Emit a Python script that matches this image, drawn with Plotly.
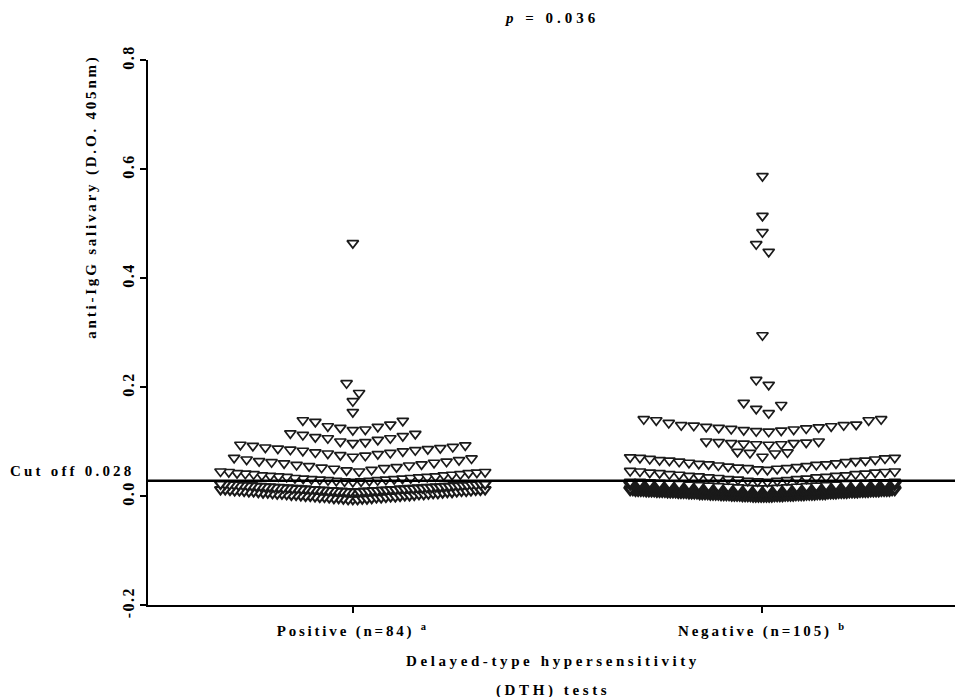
import plotly.graph_objects as go

# ---------------- data ----------------
categories = ["Positive (n=84) <sup>a</sup>", "Negative (n=105) <sup>b</sup>"]
y_ticks = [-0.2, 0.0, 0.2, 0.4, 0.6, 0.8]
cut_off = 0.028

# Positive group, grouped in display rows
pos_r0 = [0.464]
pos_r1 = [0.207, 0.189]
pos_r2 = [0.174]
pos_r3 = [0.154]
pos_r4 = [0.121, 0.122, 0.125, 0.127, 0.128, 0.131, 0.136, 0.138, 0.139]
pos_r5 = [0.097, 0.099, 0.100, 0.103, 0.106, 0.106, 0.108, 0.110, 0.112, 0.114, 0.115]
pos_r6 = [0.072, 0.074, 0.075, 0.077, 0.078, 0.079, 0.080, 0.082, 0.083, 0.084,
          0.085, 0.086, 0.087, 0.088, 0.089, 0.090, 0.092, 0.093, 0.094]
pos_r7 = [0.045, 0.047, 0.048, 0.050, 0.051, 0.052, 0.053, 0.055, 0.056, 0.057,
          0.058, 0.060, 0.061, 0.062, 0.063, 0.064, 0.066, 0.067, 0.069, 0.070]
pos_r8 = [0.026, 0.027, 0.027, 0.028, 0.028, 0.029, 0.029, 0.030, 0.030, 0.031,
          0.031, 0.032, 0.032, 0.033, 0.033, 0.034, 0.035, 0.035, 0.036, 0.036,
          0.037, 0.038, 0.038, 0.039, 0.040, 0.040, 0.041, 0.042, 0.042, 0.043,
          0.044, 0.044, 0.045]
pos_band_a = [0.008, 0.008, 0.008, 0.008, 0.009, 0.009, 0.009, 0.009, 0.010, 0.010,
              0.010, 0.010, 0.011, 0.011, 0.011, 0.011, 0.012, 0.012, 0.012, 0.012,
              0.013, 0.013, 0.013, 0.013, 0.014, 0.014, 0.014, 0.014, 0.015, 0.015,
              0.015, 0.015, 0.016, 0.016, 0.016, 0.016, 0.017, 0.017, 0.017, 0.017,
              0.018, 0.018, 0.018, 0.018, 0.019, 0.019, 0.019, 0.019, 0.020, 0.020,
              0.020, 0.020, 0.021, 0.021, 0.021, 0.021, 0.022, 0.022, 0.022, 0.022]
pos_band_b = [-0.006, -0.006, -0.006, -0.005, -0.005, -0.005, -0.004, -0.004, -0.004,
              -0.003, -0.003, -0.003, -0.002, -0.002, -0.002, -0.001, -0.001, -0.001,
              0.000, 0.000, 0.000, 0.001, 0.001, 0.001, 0.002, 0.002, 0.002,
              0.003, 0.003, 0.003, 0.004, 0.004, 0.004, 0.005, 0.005, 0.005,
              0.006, 0.006, 0.006, 0.007, 0.007, 0.007, 0.008, 0.008, 0.008,
              0.009, 0.009, 0.009, 0.010, 0.010, 0.010, 0.011, 0.011, 0.011,
              0.012, 0.012, 0.012]

# Negative group, grouped in display rows
neg_r0 = [0.587]
neg_r1 = [0.514]
neg_r2 = [0.484]
neg_r3 = [0.462, 0.448]
neg_r4 = [0.295]
neg_r5 = [0.213, 0.204]
neg_r6 = [0.152, 0.160, 0.167, 0.171]
neg_r7 = [0.118, 0.119, 0.120, 0.121, 0.122, 0.123, 0.124, 0.125, 0.126, 0.127,
          0.128, 0.129, 0.130, 0.130, 0.131, 0.134, 0.139, 0.139, 0.141, 0.141]
neg_r8 = [0.094, 0.095, 0.095, 0.096, 0.097, 0.097, 0.098, 0.099, 0.100, 0.100]
neg_r9 = [0.072, 0.078, 0.079, 0.080, 0.081]
neg_r10 = [0.048, 0.049, 0.050, 0.051, 0.051, 0.052, 0.053, 0.054, 0.055, 0.056,
           0.057, 0.058, 0.058, 0.059, 0.060, 0.061, 0.062, 0.063, 0.064, 0.065,
           0.065, 0.066, 0.067, 0.068, 0.069, 0.070, 0.070, 0.071]
neg_r11 = [0.026, 0.027, 0.028, 0.028, 0.029, 0.030, 0.031, 0.031, 0.032, 0.033,
           0.034, 0.034, 0.035, 0.036, 0.037, 0.037, 0.038, 0.039, 0.040, 0.040,
           0.041, 0.042, 0.043, 0.043, 0.044, 0.045, 0.045, 0.046]
neg_r12 = [0.014, 0.014, 0.015, 0.015, 0.016, 0.016, 0.017, 0.017, 0.018, 0.018,
           0.019, 0.019, 0.020, 0.020, 0.021, 0.021, 0.022, 0.022, 0.023, 0.023,
           0.024, 0.024, 0.025, 0.025, 0.025, 0.026, 0.026, 0.026]
neg_band_a = [0.010, 0.010, 0.010, 0.010, 0.010, 0.010, 0.010, 0.010,
              0.011, 0.011, 0.011, 0.011, 0.011, 0.011, 0.011, 0.011,
              0.012, 0.012, 0.012, 0.012, 0.012, 0.012, 0.012, 0.012,
              0.013, 0.013, 0.013, 0.013, 0.013, 0.013, 0.013, 0.013,
              0.014, 0.014, 0.014, 0.014, 0.014, 0.014, 0.014, 0.014,
              0.015, 0.015, 0.015, 0.015, 0.015, 0.015, 0.015, 0.015,
              0.016, 0.016, 0.016, 0.016, 0.016, 0.016, 0.016, 0.016,
              0.017, 0.017, 0.017, 0.017, 0.017, 0.017, 0.017, 0.017,
              0.018, 0.018, 0.018, 0.018, 0.018, 0.018, 0.018, 0.018,
              0.019, 0.019, 0.019, 0.019, 0.019, 0.019, 0.019, 0.019,
              0.020, 0.020, 0.020, 0.020, 0.020, 0.020, 0.020, 0.020,
              0.021, 0.021, 0.021, 0.021, 0.021, 0.021,
              0.022, 0.022, 0.022, 0.022, 0.022, 0.022]
neg_band_b = [0.000, 0.000, 0.000, 0.000, 0.000, 0.000, 0.000, 0.000,
              0.001, 0.001, 0.001, 0.001, 0.001, 0.001, 0.001, 0.001,
              0.002, 0.002, 0.002, 0.002, 0.002, 0.002, 0.002, 0.002,
              0.003, 0.003, 0.003, 0.003, 0.003, 0.003, 0.003, 0.003,
              0.004, 0.004, 0.004, 0.004, 0.004, 0.004, 0.004, 0.004,
              0.005, 0.005, 0.005, 0.005, 0.005, 0.005, 0.005, 0.005,
              0.006, 0.006, 0.006, 0.006, 0.006, 0.006, 0.006, 0.006,
              0.007, 0.007, 0.007, 0.007, 0.007, 0.007, 0.007, 0.007,
              0.008, 0.008, 0.008, 0.008, 0.008, 0.008, 0.008, 0.008,
              0.009, 0.009, 0.009, 0.009, 0.009, 0.009, 0.009, 0.009,
              0.010, 0.010, 0.010, 0.010, 0.010, 0.010, 0.010, 0.010,
              0.011, 0.011, 0.011, 0.011, 0.011, 0.011, 0.011, 0.011,
              0.012, 0.012, 0.012, 0.012]

pos_rows = [pos_band_b, pos_band_a, pos_r8, pos_r7, pos_r6, pos_r5, pos_r4,
            pos_r3, pos_r2, pos_r1, pos_r0]
neg_rows = [neg_band_b, neg_band_a, neg_r12, neg_r11, neg_r10, neg_r9, neg_r8,
            neg_r7, neg_r6, neg_r5, neg_r4, neg_r3, neg_r2, neg_r1, neg_r0]


# ---------------- column-scatter layout (rows spread centre-out) ----------------
def spread_row(vals, center, step=0.0305, max_w=0.646):
    s = sorted(vals)
    n = len(s)
    if n == 1:
        return [center], s, step
    sp = min(step, max_w / (n - 1))
    offs = [(i - (n - 1) / 2) * sp for i in range(n)]
    order = sorted(range(n), key=lambda i: (abs(offs[i]), -i))
    xs = [center + offs[order[j]] for j in range(n)]
    return xs, s, sp


def build(rows, center):
    X, Y, W = [], [], []
    for r in rows:
        xs, ys, sp = spread_row(r, center)
        X += xs
        Y += ys
        # squeezed rows print darker (overlapping outlines)
        if sp < 0.0075:
            w = 3.2
        elif sp < 0.012:
            w = 2.1
        else:
            w = 1.7
        W += [w] * len(xs)
    return X, Y, W


FONT = "Liberation Serif"
INK = "#1a1a1a"


def spaced(t, sp=3):
    return f'<span style="letter-spacing:{sp}px">{t}</span>'


fig = go.Figure()
for rows, c in ((pos_rows, 0), (neg_rows, 1)):
    X, Y, W = build(rows, c)
    fig.add_trace(go.Scatter(
        x=X, y=Y, mode="markers", showlegend=False, hoverinfo="y",
        marker=dict(symbol="triangle-down", size=10, color="white",
                    line=dict(color=INK, width=W)),
    ))

fig.add_shape(type="line", xref="paper", yref="y", x0=0, x1=1, y0=cut_off, y1=cut_off,
              line=dict(color="black", width=2.5), layer="above")

fig.update_layout(
    width=955, height=697,
    margin=dict(l=148, r=0, t=60, b=92),
    paper_bgcolor="white", plot_bgcolor="white",
    font=dict(family=FONT, size=14, color="black", weight="bold"),
    xaxis=dict(range=[-0.5, 1.47], tickvals=[0, 1],
               ticktext=[spaced(c, 2.8) for c in categories],
               showline=True, linecolor="black", linewidth=2,
               ticks="outside", ticklen=6, tickwidth=2, tickcolor="black",
               ticklabelstandoff=5,
               showgrid=False, zeroline=False,
               tickfont=dict(family=FONT, size=15, weight="bold")),
    yaxis=dict(range=[-0.2, 0.8], tickvals=y_ticks,
               ticktext=[spaced(f"{v:.1f}", 1.5) for v in y_ticks],
               tickangle=-90,
               showline=True, linecolor="black", linewidth=2,
               ticks="outside", ticklen=6, tickwidth=2, tickcolor="black",
               showgrid=False, zeroline=False,
               tickfont=dict(family=FONT, size=16, weight="bold")),
)

ann = dict(showarrow=False, font=dict(family=FONT, size=15, color="black", weight="bold"))
fig.add_annotation(text=spaced("<i>p</i> = 0.036", 4), xref="paper", yref="paper",
                   x=0.5, y=1.077, xanchor="center", yanchor="middle", **ann)
fig.add_annotation(text=spaced("Cut off 0.028", 3.2), xref="paper", yref="y",
                   x=-0.0136, y=0.046, xanchor="right", yanchor="middle", **ann)
fig.add_annotation(text=spaced("anti-IgG salivary (D.O. 405nm)", 2.8), xref="paper", yref="paper",
                   x=-0.0694, y=0.749, textangle=-90, xanchor="center", yanchor="middle", **ann)
fig.add_annotation(text=spaced("Delayed-type hypersensitivity", 3.6), xref="paper", yref="paper",
                   x=0.502, y=-0.1028, xanchor="center", yanchor="middle", **ann)
fig.add_annotation(text=spaced("(DTH) tests", 3.6), xref="paper", yref="paper",
                   x=0.502, y=-0.156, xanchor="center", yanchor="middle", **ann)

fig.write_html("out.html", config={"displayModeBar": False},
               post_script="document.body.style.margin='0';document.body.style.overflow='hidden';")
